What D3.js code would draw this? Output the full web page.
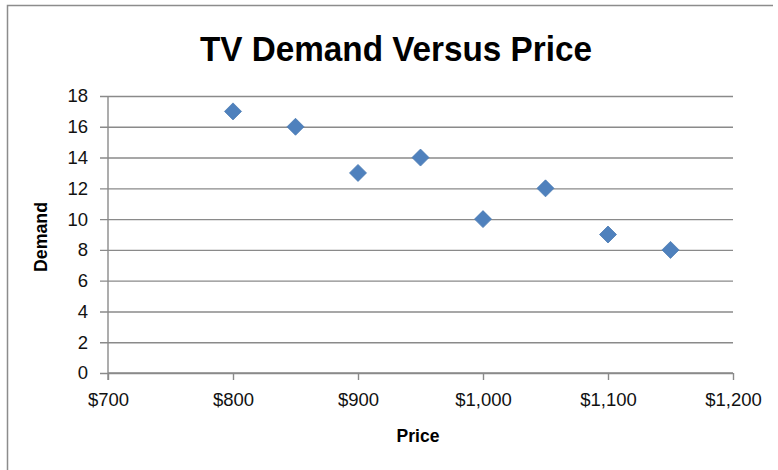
<!DOCTYPE html>
<html>
<head>
<meta charset="utf-8">
<script src="https://cdn.jsdelivr.net/npm/d3@7"></script>
<style>
  html, body { margin: 0; padding: 0; background: #fff; }
  svg { display: block; }
</style>
</head>
<body>
<svg id="chart" width="778" height="470"></svg>
<script>
const prices = [800, 850, 900, 950, 1000, 1050, 1100, 1150];
const demand = [17, 16, 13, 14, 10, 12, 9, 8];
const xTicks = [700, 800, 900, 1000, 1100, 1200];
const yTicks = [0, 2, 4, 6, 8, 10, 12, 14, 16, 18];
const titleText = "TV Demand Versus Price";
const xLabel = "Price";
const yLabel = "Demand";

const svg = d3.select("#chart");
const W = 778, H = 470;
const m = { left: 108, right: 45, top: 96, bottom: 97 };

const x = d3.scaleLinear().domain([700, 1200]).range([m.left, W - m.right]);
const y = d3.scaleLinear().domain([0, 18]).range([H - m.bottom, m.top]);

const gridColor = "#8a8a8a";
const font = "'Liberation Sans', Arial, sans-serif";
const tickFont = 18.5;

// outer frame (top and left edges visible)
svg.append("path")
  .attr("d", `M7.5,${H} V5.5 H773`)
  .attr("fill", "none").attr("stroke", "#8c8c8c").attr("stroke-width", 1.5);

// title
svg.append("text")
  .attr("x", 396).attr("y", 61)
  .attr("text-anchor", "middle")
  .attr("font-family", font).attr("font-weight", "bold")
  .attr("font-size", 35.5)
  .attr("textLength", 392).attr("lengthAdjust", "spacingAndGlyphs")
  .attr("fill", "#000")
  .text(titleText);

// y axis with gridlines
const yAxis = d3.axisLeft(y).tickValues(yTicks).tickSize(-(x.range()[1] - x.range()[0])).tickPadding(12);
const gy = svg.append("g").attr("transform", `translate(${m.left},0)`).call(yAxis);
gy.select(".domain").remove();
gy.selectAll(".tick line")
  .attr("x1", -8)
  .attr("stroke", gridColor).attr("stroke-width", 1.4);
gy.selectAll(".tick text")
  .attr("x", -20)
  .attr("font-family", font).attr("font-size", tickFont).attr("fill", "#111");

// x axis
const xAxis = d3.axisBottom(x).tickValues(xTicks).tickSize(7).tickPadding(13)
  .tickFormat(d => "$" + d3.format(",")(d));
const gx = svg.append("g").attr("transform", `translate(0,${y(0)})`).call(xAxis);
gx.select(".domain").attr("stroke", gridColor).attr("stroke-width", 1.4)
  .attr("d", `M${x(700)},0H${x(1200)}`);
gx.selectAll(".tick line").attr("stroke", gridColor).attr("stroke-width", 1.4);
gx.selectAll(".tick text")
  .attr("font-family", font).attr("font-size", tickFont).attr("fill", "#111");

// y axis line
svg.append("line")
  .attr("x1", x(700)).attr("x2", x(700))
  .attr("y1", y(18)).attr("y2", y(0) + 7)
  .attr("stroke", gridColor).attr("stroke-width", 1.4);

// axis titles
svg.append("text")
  .attr("x", 418).attr("y", 442)
  .attr("text-anchor", "middle")
  .attr("font-family", font).attr("font-weight", "bold").attr("font-size", 17.5)
  .attr("fill", "#000")
  .text(xLabel);

svg.append("text")
  .attr("transform", "translate(47,237) rotate(-90)")
  .attr("text-anchor", "middle")
  .attr("font-family", font).attr("font-weight", "bold").attr("font-size", 18)
  .attr("textLength", 70).attr("lengthAdjust", "spacingAndGlyphs")
  .attr("fill", "#000")
  .text(yLabel);

// markers
const data = prices.map((p, i) => ({ p, d: demand[i] }));
const s = 8.5;
svg.append("g").selectAll("path")
  .data(data).join("path")
  .attr("transform", d => `translate(${x(d.p)},${y(d.d)})`)
  .attr("d", `M0,${-s}L${s},0L0,${s}L${-s},0Z`)
  .attr("fill", "#4F81BD")
  .attr("stroke", "#4a7ab3").attr("stroke-width", 0.8);
</script>
</body>
</html>
